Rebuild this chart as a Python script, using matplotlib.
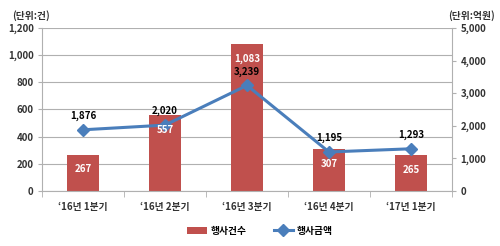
import matplotlib.pyplot as plt
import numpy as np

plt.rcParams['font.family'] = ['Noto Sans CJK KR', 'DejaVu Sans']

quarters = ['\u201816년 1분기', '\u201816년 2분기', '\u201816년 3분기', '\u201816년 4분기', '\u201817년 1분기']
counts = [267, 557, 1083, 307, 265]      # 행사건수 (건)
amounts = [1876, 2020, 3239, 1195, 1293]  # 행사금액 (억원)

bar_color = '#C0504D'
line_color = '#4A7EBB'
grid_color = '#B0B0B0'

fig = plt.figure(figsize=(5, 2.46), dpi=100)
ax = fig.add_axes([0.084, 0.224, 0.82, 0.662])
ax2 = ax.twinx()

x = np.arange(len(quarters))
ax.bar(x, counts, width=0.4, color=bar_color, zorder=2, label='행사건수')
ax.set_ylim(0, 1200)
ax.set_yticks(np.arange(0, 1201, 200))
ax.set_yticklabels([f'{v:,}' for v in range(0, 1201, 200)])
ax.set_xlim(-0.5, len(quarters) - 0.5)
ax.set_xticks(x)
ax.set_xticklabels(quarters)
ax.set_xticks(np.arange(-0.5, len(quarters), 1), minor=True)
ax.tick_params(axis='x', which='major', length=0, pad=8)
ax.tick_params(axis='x', which='minor', length=4, color=grid_color)
ax.tick_params(axis='y', length=3, color=grid_color, pad=3)
ax.grid(axis='y', color=grid_color, linewidth=0.8, zorder=0)
ax.set_axisbelow(True)
for s in ['top', 'right']:
    ax.spines[s].set_visible(False)
for s in ['left', 'bottom']:
    ax.spines[s].set_color(grid_color)

ax2.plot(x, amounts, color=line_color, linewidth=2.2, marker='D', markersize=6,
         zorder=3, label='행사금액')
ax2.set_ylim(0, 5000)
ax2.set_yticks(np.arange(0, 5001, 1000))
ax2.set_yticklabels([f'{v:,}' for v in range(0, 5001, 1000)])
ax2.tick_params(axis='y', length=3, color=grid_color, pad=3)
for s in ['top', 'left', 'bottom']:
    ax2.spines[s].set_visible(False)
ax2.spines['right'].set_color(grid_color)

# bar labels drawn on ax2 so they sit above the line
for xi, v in zip(x, counts):
    ax2.annotate(f'{v:,}', (xi, v), xycoords=ax.transData, xytext=(0, -10.5),
                 textcoords='offset points', ha='center', va='center',
                 color='white', fontsize=7, fontweight='bold', zorder=5)

for xi, v in zip(x, amounts):
    ax2.annotate(f'{v:,}', (xi, v), xytext=(0, 10), textcoords='offset points',
                 ha='center', va='center', color='black', fontsize=7, fontweight='bold')

for a in (ax, ax2):
    for lbl in a.get_yticklabels() + a.get_xticklabels():
        lbl.set_fontsize(7)
        lbl.set_fontweight('bold')
        lbl.set_color('#333333')

fig.text(0.024, 0.935, '(단위:건)', fontsize=7, fontweight='bold', color='#333333', va='center')
fig.text(0.99, 0.935, '(단위:억원)', fontsize=7, fontweight='bold', color='#333333',
         va='center', ha='right')

h1, l1 = ax.get_legend_handles_labels()
h2, l2 = ax2.get_legend_handles_labels()
fig.legend(h1 + h2, l1 + l2, loc='center', bbox_to_anchor=(0.52, 0.062), ncol=2,
           frameon=False, prop={'weight': 'bold', 'size': 7},
           handlelength=2.0, handletextpad=0.4, columnspacing=2.8)

fig.savefig('out.png', dpi=100)
